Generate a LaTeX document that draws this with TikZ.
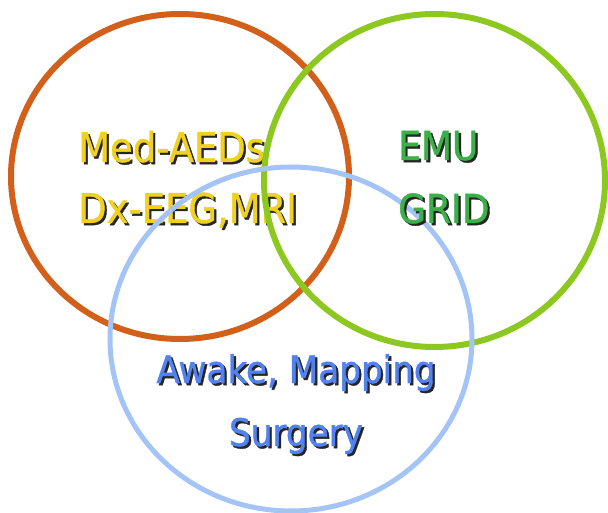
\documentclass[tikz,border=0pt]{standalone}
\usepackage{fontspec}
\setmainfont{DejaVu Sans}[FakeStretch=0.9,FakeBold=1]
\usetikzlibrary{shapes.geometric}
\definecolor{cred}{HTML}{D2601A}
\definecolor{cgreen}{HTML}{8CC820}
\definecolor{cblue}{HTML}{A4C4F8}
\definecolor{tyellow}{HTML}{F0D020}
\definecolor{tgreen}{HTML}{3CB048}
\definecolor{tblue}{HTML}{5282F0}
\tikzset{
  ring/.style={ellipse, draw, inner sep=0pt},
  lbl/.style={inner sep=0pt, anchor=base west},
}
\newcommand{\shd}[2]{% color, text : dark drop shadow behind coloured text
  \makebox[0pt][l]{\hspace{2.2pt}\raisebox{-2.2pt}{\textcolor{black!85}{#2}}}\textcolor{#1}{#2}}
\begin{document}
\begin{tikzpicture}[x=1pt,y=-1pt]
\fill[white] (0,0) rectangle (608,513);
\useasboundingbox (0,0) rectangle (608,513);
% top-left text (behind circles)
\begin{scope}[font=\fontsize{41}{41}\selectfont]
\node[lbl] (med) at (78,162) {\shd{tyellow}{Med-AEDs}};
\node[lbl] (dx) at (78,223) {\shd{tyellow}{Dx-EEG,MRI}};
\end{scope}
% circles
\node[ring, draw=cred, line width=6pt, minimum width=338pt, minimum height=325pt] (cr) at (180,176.5) {};
\node[ring, draw=cgreen, line width=6pt, minimum width=341pt, minimum height=333pt] (cg) at (434.5,180.5) {};
\node[ring, draw=cblue, line width=5pt, minimum width=362pt, minimum height=344pt] (cb) at (291,339) {};
% other texts
\begin{scope}[font=\fontsize{40}{40}\selectfont]
\node[lbl] (emu) at (398,160) {\shd{tgreen}{EMU}};
\node[lbl] (grid) at (398,223) {\shd{tgreen}{GRID}};
\end{scope}
\begin{scope}[font=\fontsize{38}{38}\selectfont]
\node[lbl, anchor=base] (awake) at (296,383) {\shd{tblue}{Awake, Mapping}};
\node[lbl, anchor=base] (surg) at (296,446) {\shd{tblue}{Surgery}};
\end{scope}
\end{tikzpicture}
\end{document}
